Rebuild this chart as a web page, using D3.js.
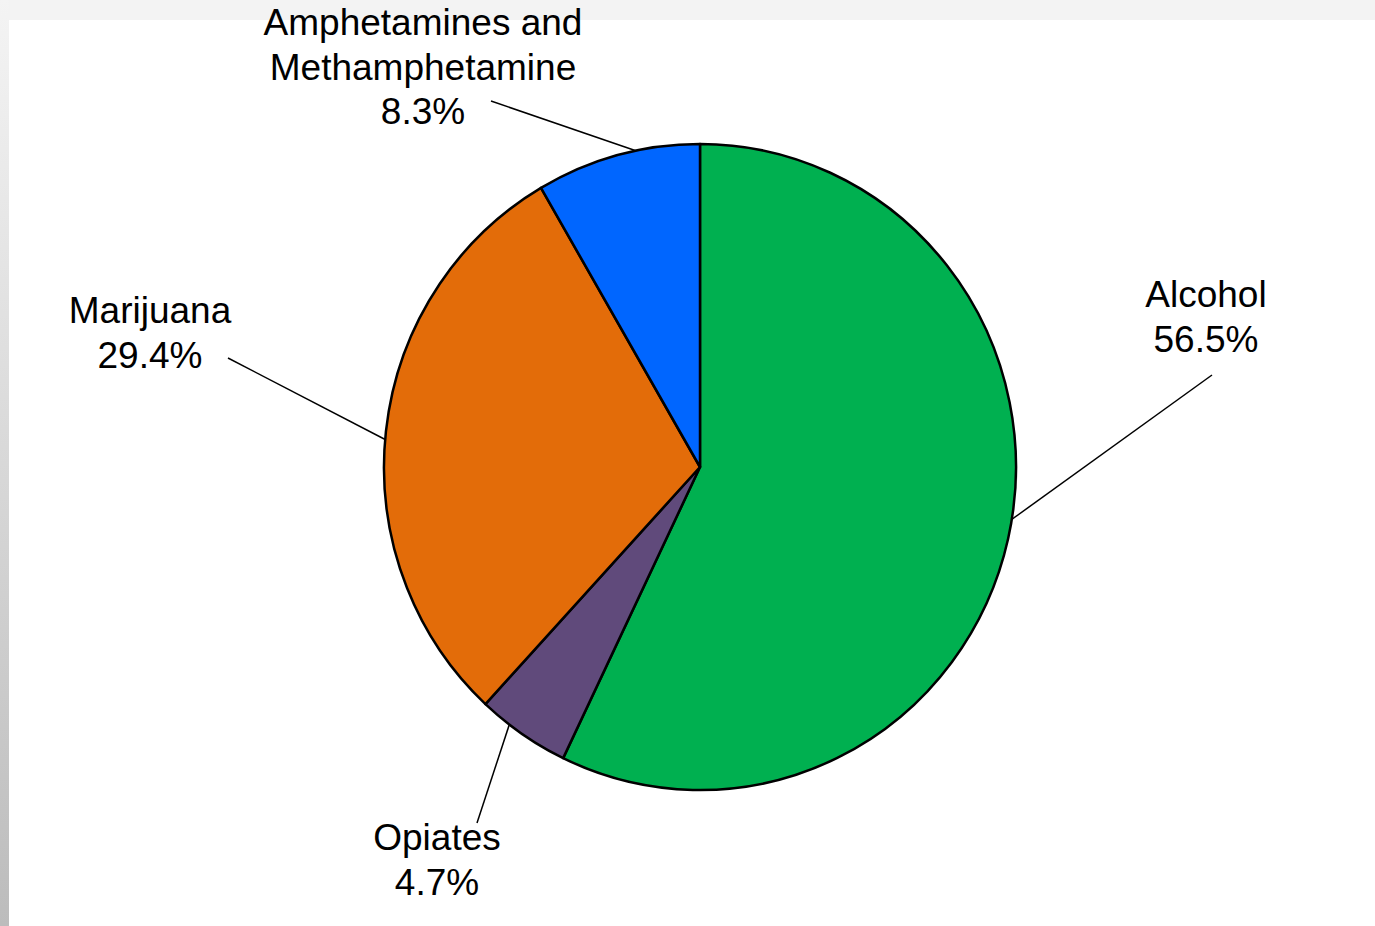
<!DOCTYPE html>
<html>
<head>
<meta charset="utf-8">
<script src="https://cdn.jsdelivr.net/npm/d3@7"></script>
<style>
  html, body { margin: 0; padding: 0; }
  body { width: 1375px; height: 926px; overflow: hidden; background: #f3f3f3; }
  text { font-family: "Liberation Sans", Arial, sans-serif; fill: #000; }
</style>
</head>
<body>
<script>
  // Chart values
  var categories = ["Alcohol", "Opiates", "Marijuana", "Amphetamines and Methamphetamine"];
  var values = [56.5, 4.7, 29.4, 8.3];
  var valueLabels = ["56.5%", "4.7%", "29.4%", "8.3%"];
  var labelLines = [["Alcohol"], ["Opiates"], ["Marijuana"], ["Amphetamines and", "Methamphetamine"]];
  var colors = ["#00b050", "#604a7b", "#e36c09", "#0066ff"];

  var width = 1375, height = 926;

  // pie geometry (slightly taller than wide, like the original)
  var cx = 700, cy = 467, rx = 316, ry = 323;

  // label layout: text anchor, leader outer end, nudge of leader start (deg)
  var labelLayout = [
    { x: 1206, y: 307, lx: 1212, ly: 375, nudge: -3.5 },
    { x: 437,  y: 850, lx: 477,  ly: 823, nudge: 2.9 },
    { x: 150,  y: 323, lx: 228,  ly: 358, nudge: -1.4 },
    { x: 423,  y: 35,  lx: 491,  ly: 101, nudge: 3.4 }
  ];

  var svg = d3.select("body")
    .append("svg")
    .attr("width", width)
    .attr("height", height);

  // background frame: grey gradient on the left, flat strip on top
  var defs = svg.append("defs");
  var grad = defs.append("linearGradient")
    .attr("id", "leftEdge")
    .attr("x1", 0).attr("y1", 0).attr("x2", 0).attr("y2", 1);
  grad.append("stop").attr("offset", "0%").attr("stop-color", "#f4f4f4");
  grad.append("stop").attr("offset", "100%").attr("stop-color", "#bcbcbc");

  svg.append("rect")
    .attr("width", width).attr("height", height)
    .attr("fill", "#f3f3f3");
  svg.append("rect")
    .attr("x", 0).attr("y", 0)
    .attr("width", 9).attr("height", height)
    .attr("fill", "url(#leftEdge)");
  svg.append("rect")
    .attr("x", 9).attr("y", 20)
    .attr("width", width - 9).attr("height", height - 20)
    .attr("fill", "#fff");

  var data = categories.map(function(c, i) {
    return { name: c, value: values[i], label: valueLabels[i], lines: labelLines[i], color: colors[i], layout: labelLayout[i] };
  });

  var pie = d3.pie()
    .sort(null)
    .value(function(d) { return d.value; });

  var arcs = pie(data);

  var arc = d3.arc()
    .innerRadius(0)
    .outerRadius(rx);

  var pieG = svg.append("g")
    .attr("transform", "translate(" + cx + "," + cy + ") scale(1," + (ry / rx) + ")");

  pieG.selectAll(".slice")
    .data(arcs)
    .enter().append("path")
    .attr("class", "slice")
    .attr("d", arc)
    .attr("fill", function(d) { return d.data.color; })
    .attr("stroke", "#000")
    .attr("stroke-width", 2.5)
    .attr("stroke-linejoin", "round");

  // point on the pie rim at a given angle (radians, clockwise from top)
  function rimPoint(a) {
    return [cx + Math.sin(a) * rx, cy - Math.cos(a) * ry];
  }

  // leader lines
  svg.selectAll(".leader")
    .data(arcs)
    .enter().append("line")
    .attr("class", "leader")
    .attr("x1", function(d) { return d.data.layout.lx; })
    .attr("y1", function(d) { return d.data.layout.ly; })
    .attr("x2", function(d) {
      var a = (d.startAngle + d.endAngle) / 2 + d.data.layout.nudge * Math.PI / 180;
      return rimPoint(a)[0];
    })
    .attr("y2", function(d) {
      var a = (d.startAngle + d.endAngle) / 2 + d.data.layout.nudge * Math.PI / 180;
      return rimPoint(a)[1];
    })
    .attr("stroke", "#000")
    .attr("stroke-width", 1.5);

  // labels
  var lineHeight = 44.5;
  var labels = svg.selectAll(".label")
    .data(arcs)
    .enter().append("text")
    .attr("class", "label")
    .attr("text-anchor", "middle")
    .attr("font-size", 37);

  labels.each(function(d) {
    var t = d3.select(this);
    var rows = d.data.lines.concat([d.data.label]);
    rows.forEach(function(r, i) {
      t.append("tspan")
        .attr("x", d.data.layout.x)
        .attr("y", d.data.layout.y + i * lineHeight)
        .text(r);
    });
  });
</script>
</body>
</html>
